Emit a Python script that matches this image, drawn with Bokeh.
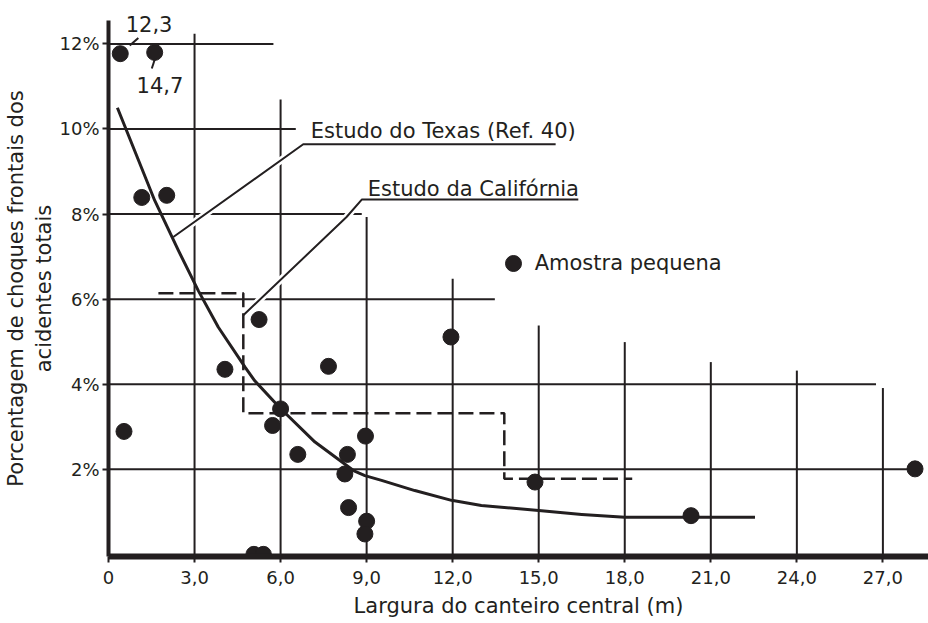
from bokeh.plotting import figure
from bokeh.models import FixedTicker, Range1d, Legend, LegendItem, ColumnDataSource
from bokeh.embed import file_html
from bokeh.resources import INLINE
from bokeh.core.properties import value

INK = "#231f20"
FONT = "DejaVu Sans"

# ---- data ----
# observed points (two off-scale values drawn at the top edge, labelled 12,3 and 14,7)
pt_x = [0.41, 1.61, 1.16, 2.03, 0.54, 4.06, 5.25, 7.67, 6.00, 5.72, 6.60, 8.33,
        8.24, 8.96, 8.37, 9.00, 8.94, 5.07, 5.40, 11.94, 14.87, 20.31, 28.12]
pt_y = [11.77, 11.80, 8.39, 8.44, 2.89, 4.35, 5.52, 4.42, 3.42, 3.03, 2.35, 2.35,
        1.89, 2.78, 1.10, 0.78, 0.48, 0.0, 0.0, 5.11, 1.70, 0.91, 2.01]

# Texas study curve
texas_x = [0.31, 1.61, 2.44, 3.13, 3.83, 4.76, 5.10, 5.98, 7.20, 8.54, 8.94, 9.52, 10.68,
           11.96, 13.0, 15.0, 16.5, 18.0, 20.3, 22.54]
texas_y = [10.50, 8.32, 7.14, 6.20, 5.34, 4.40, 4.08, 3.44, 2.64, 1.97, 1.85, 1.74, 1.50,
           1.27, 1.15, 1.03, 0.94, 0.87, 0.87, 0.87]

# California study (step, dashed)
calif_x = [1.74, 4.70, 4.70, 13.80, 13.80, 18.26]
calif_y = [6.14, 6.14, 3.32, 3.32, 1.78, 1.78]

# axis ticks
x_ticks = [0, 3, 6, 9, 12, 15, 18, 21, 24, 27]
x_tick_labels = ["0", "3,0", "6,0", "9,0", "12,0", "15,0", "18,0", "21,0", "24,0", "27,0"]
y_ticks = [2, 4, 6, 8, 10, 12]
y_tick_labels = ["2%", "4%", "6%", "8%", "10%", "12%"]
y_axis_top = 12.55

# hand-drawn grid: horizontal lines (y, right end) and vertical lines (x, top end)
hgrid_y = [2, 4, 6, 8, 10, 12]
hgrid_xend = [28.1, 26.76, 13.47, 8.83, 6.53, 5.75]
vgrid_x = [3, 6, 9, 12, 15, 18, 21, 24, 27]
vgrid_ytop = [12.24, 10.69, 7.93, 6.48, 5.38, 4.99, 4.52, 4.32, 3.91]

# annotations
texas_lead_x = [2.26, 6.79, 15.59]
texas_lead_y = [7.46, 9.64, 9.64]
calif_lead_x = [4.70, 8.30, 8.83, 16.38]
calif_lead_y = [5.62, 7.93, 8.34, 8.34]
note_x = [7.05, 9.04, 0.60, 0.98]
note_y = [9.77, 8.40, 12.28, 10.84]
note_text = ["Estudo do Texas (Ref. 40)", "Estudo da Califórnia", "12,3", "14,7"]
off_lead_x0 = [0.74, 1.62]
off_lead_y0 = [11.96, 11.65]
off_lead_x1 = [1.04, 1.51]
off_lead_y1 = [12.14, 11.42]

p = figure(width=928, height=623, x_range=Range1d(0, 28.59), y_range=Range1d(-0.05, 13.02),
           output_backend="svg", toolbar_location=None,
           min_border_left=108, min_border_right=0, min_border_top=0, min_border_bottom=67)
p.outline_line_color = None
p.grid.visible = False
p.background_fill_color = "white"

for ax, ticks, labels in ((p.xaxis[0], x_ticks, x_tick_labels), (p.yaxis[0], y_ticks, y_tick_labels)):
    ax.ticker = FixedTicker(ticks=ticks)
    ax.major_label_overrides = {t: l for t, l in zip(ticks, labels)}
    ax.axis_line_color = INK
    ax.major_tick_line_color = INK
    ax.major_tick_line_width = 2
    ax.major_tick_out = 6
    ax.major_tick_in = 0
    ax.minor_tick_line_color = None
    ax.major_label_text_font = FONT
    ax.major_label_text_font_size = "18px"
    ax.major_label_text_color = INK
    ax.axis_label_text_font = FONT
    ax.axis_label_text_font_size = "21px"
    ax.axis_label_text_font_style = "normal"
    ax.axis_label_text_color = INK

p.xaxis.axis_line_width = 6
p.yaxis.axis_line_width = 4
p.yaxis.bounds = (-0.05, y_axis_top)
p.xaxis.major_label_standoff = 8
p.yaxis.major_label_standoff = 3
p.xaxis.axis_label = "Largura do canteiro central (m)"
p.xaxis.axis_label_standoff = 7
pad = "\u00a0" * 3
p.yaxis.axis_label = "Porcentagem de choques frontais dos" + pad + "\nacidentes totais" + pad
p.yaxis.axis_label_standoff = 0

# grid
p.segment(x0=[0] * len(hgrid_y), y0=hgrid_y, x1=hgrid_xend, y1=hgrid_y, line_color=INK, line_width=2)
p.segment(x0=vgrid_x, y0=[0] * len(vgrid_x), x1=vgrid_x, y1=vgrid_ytop, line_color=INK, line_width=2)

# leader lines with white halo
for lx, ly in ((texas_lead_x, texas_lead_y), (calif_lead_x, calif_lead_y)):
    p.line(lx, ly, line_color="white", line_width=7)
p.line(texas_lead_x, texas_lead_y, line_color=INK, line_width=2)
p.line(calif_lead_x, calif_lead_y, line_color=INK, line_width=2)

# California step (dashed)
p.line(calif_x, calif_y, line_color=INK, line_width=2.5, line_dash="15 6")

# Texas curve
p.line(texas_x, texas_y, line_color=INK, line_width=3, line_join="round")

# points
src = ColumnDataSource(dict(x=pt_x, y=pt_y))
pts = p.scatter("x", "y", source=src, size=16, color=INK)

# off-scale leaders and notes
p.segment(x0=off_lead_x0, y0=off_lead_y0, x1=off_lead_x1, y1=off_lead_y1, line_color=INK, line_width=2)
p.text(x=note_x, y=note_y, text=note_text, text_font=value(FONT), text_font_size="21px",
       text_color=INK, text_baseline="alphabetic", text_align="left", y_offset=-8)

legend = Legend(items=[LegendItem(label="Amostra pequena", renderers=[pts])],
                location=(384.7, 272.7), glyph_width=40, glyph_height=40, label_standoff=2,
                padding=0, margin=0, border_line_color=None, background_fill_alpha=0,
                label_text_font=FONT, label_text_font_size="21px", label_text_color=INK,
                label_text_baseline="middle")
p.add_layout(legend)

open("out.html", "w").write(file_html(p, INLINE))
